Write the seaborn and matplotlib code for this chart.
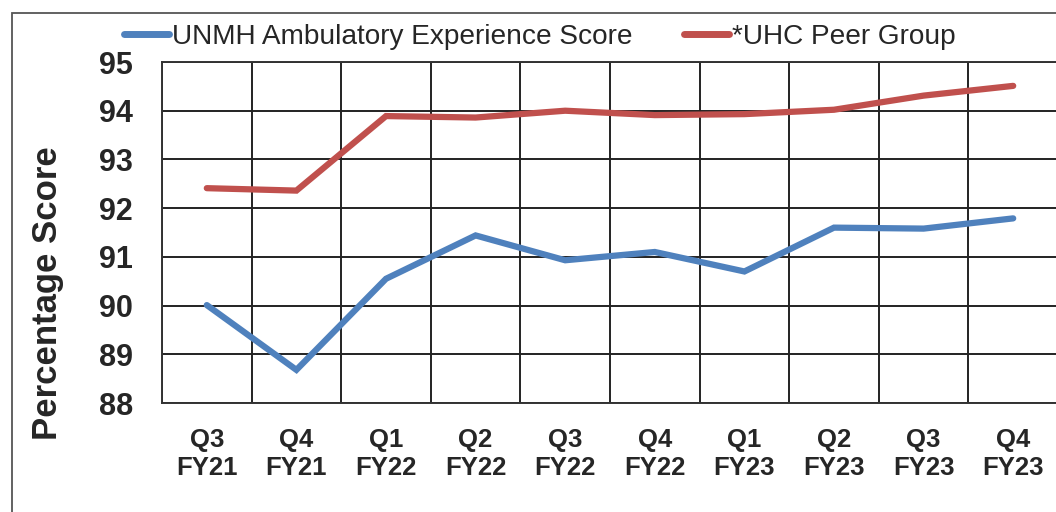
import matplotlib
matplotlib.use("Agg")
import matplotlib.pyplot as plt
import seaborn as sns
import pandas as pd
import numpy as np
from matplotlib.patches import Rectangle
from matplotlib.lines import Line2D

categories = ["Q3\nFY21", "Q4\nFY21", "Q1\nFY22", "Q2\nFY22", "Q3\nFY22",
              "Q4\nFY22", "Q1\nFY23", "Q2\nFY23", "Q3\nFY23", "Q4\nFY23"]
unmh = [90.01, 88.68, 90.55, 91.44, 90.93, 91.10, 90.70, 91.60, 91.58, 91.79]
uhc = [92.41, 92.36, 93.89, 93.86, 94.00, 93.91, 93.93, 94.02, 94.31, 94.51]
series_names = ["UNMH Ambulatory Experience Score", "*UHC Peer Group"]
y_ticks = [88, 89, 90, 91, 92, 93, 94, 95]

df = pd.DataFrame({
    "Quarter": categories * 2,
    "Score": unmh + uhc,
    "Series": [series_names[0]] * len(categories) + [series_names[1]] * len(categories),
})

sns.set_style("white")
plt.rcParams["font.family"] = ["Liberation Sans", "DejaVu Sans"]

W, H = 1056, 512
fig = plt.figure(figsize=(W / 100, H / 100), dpi=100)
left, right, top, bottom = 162, 1058, 62, 403
ax = fig.add_axes([left / W, 1 - bottom / H, (right - left) / W, (bottom - top) / H])

palette = {series_names[0]: "#4F81BD", series_names[1]: "#C0504D"}
sns.lineplot(data=df, x="Quarter", y="Score", hue="Series", palette=palette,
             linewidth=4.5, ax=ax, sort=False, legend=False,
             solid_capstyle="round", solid_joinstyle="miter")

ax.set_xlim(-0.5, len(categories) - 0.5)
ax.set_ylim(88, 95)
ax.set_yticks(y_ticks)
ax.set_yticklabels([str(t) for t in y_ticks], fontsize=22, fontweight="bold")
ax.set_xticks(range(len(categories)))
ax.set_xticklabels(categories, fontsize=18.5, fontweight="bold", linespacing=1.2)
ax.set_xticks(np.arange(-0.5, len(categories), 1.0), minor=True)
ax.tick_params(axis="x", which="major", length=0, pad=18)
ax.tick_params(axis="y", which="major", length=0, pad=21)
ax.tick_params(axis="x", which="minor", length=0)
ax.grid(True, axis="y", which="major", color="#222222", linewidth=1.4)
ax.grid(True, axis="x", which="minor", color="#222222", linewidth=1.4)
ax.set_axisbelow(True)
for s in ax.spines.values():
    s.set_color("#333333")
    s.set_linewidth(1.4)

ax.set_xlabel("")
ax.set_ylabel("Percentage Score", fontsize=25, fontweight="bold")
ax.yaxis.set_label_coords((64 - left) / (right - left), (bottom - 293) / (bottom - top))

handles = [Line2D([0], [0], color=palette[n], linewidth=5, solid_capstyle="round") for n in series_names]
fig.legend(handles, series_names, loc="center left", bbox_to_anchor=(124 / W, 1 - 37 / H),
           ncol=2, frameon=False, fontsize=20.2, handlelength=1.6, handletextpad=0.1,
           columnspacing=1.85, borderpad=0, borderaxespad=0)

fig.patches.append(Rectangle((12 / W, -0.05), 1.1, 1 - 13 / H + 0.05,
                             transform=fig.transFigure, fill=False,
                             edgecolor="#555555", linewidth=1.3, zorder=0))

fig.savefig("out.png", dpi=100)
